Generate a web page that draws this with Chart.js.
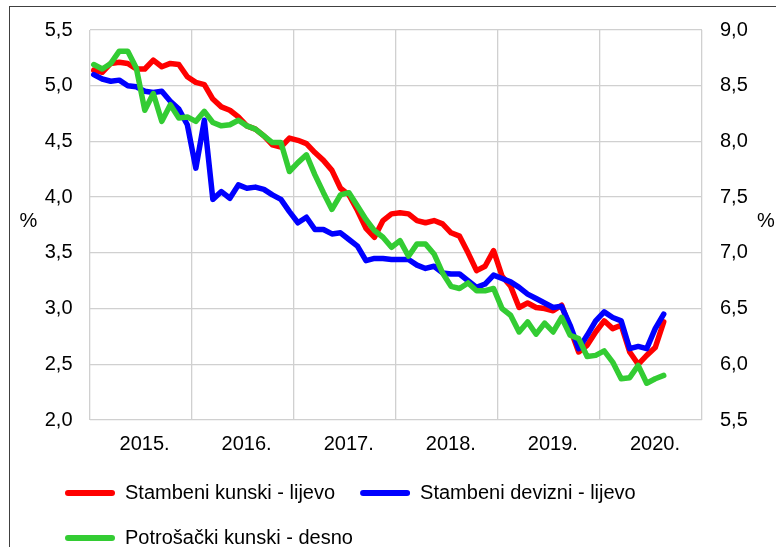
<!DOCTYPE html>
<html>
<head>
<meta charset="utf-8">
<script src="https://cdn.jsdelivr.net/npm/chart.js@4.4.1/dist/chart.umd.min.js"></script>
<style>
  body { margin: 0; background: #fff; overflow: hidden; }
  #wrap { position: relative; width: 776px; height: 547px; }
  #frame { position: absolute; left: 9px; top: 6px; width: 800px; height: 600px; border-left: 1px solid #404040; border-top: 1px solid #404040; pointer-events: none; }
</style>
</head>
<body>
<div id="wrap">
  <canvas id="ratesChart" width="776" height="547"></canvas>
  <div id="frame"></div>
</div>
<script>
// monthly, Jan 2015 - Aug 2020
var years = ["2015.", "2016.", "2017.", "2018.", "2019.", "2020."];
var stambeniKunski = [5.14, 5.12, 5.20, 5.21, 5.20, 5.15, 5.15, 5.23, 5.17, 5.20, 5.19, 5.08,
  5.03, 5.01, 4.88, 4.81, 4.78, 4.72, 4.64, 4.61, 4.55, 4.47, 4.45, 4.53,
  4.51, 4.48, 4.40, 4.33, 4.24, 4.08, 4.02, 3.88, 3.72, 3.64, 3.79, 3.85,
  3.86, 3.85, 3.79, 3.77, 3.79, 3.76, 3.68, 3.65, 3.50, 3.34, 3.38, 3.52,
  3.29, 3.20, 3.01, 3.05, 3.01, 3.00, 2.98, 3.03, 2.82, 2.61, 2.67, 2.79,
  2.89, 2.82, 2.85, 2.61, 2.50, 2.58, 2.65, 2.88];
var stambeniDevizni = [5.10, 5.06, 5.04, 5.05, 5.00, 4.99, 4.95, 4.94, 4.95, 4.86, 4.79, 4.65,
  4.26, 4.69, 3.98, 4.05, 3.99, 4.11, 4.08, 4.09, 4.07, 4.02, 3.98, 3.87,
  3.77, 3.82, 3.71, 3.71, 3.67, 3.68, 3.62, 3.56, 3.43, 3.45, 3.45, 3.44,
  3.44, 3.44, 3.39, 3.36, 3.38, 3.32, 3.31, 3.31, 3.25, 3.19, 3.22, 3.30,
  3.27, 3.24, 3.19, 3.13, 3.09, 3.05, 3.01, 3.02, 2.85, 2.64, 2.76, 2.89,
  2.97, 2.92, 2.89, 2.64, 2.66, 2.64, 2.82, 2.95];
var potrosackiKunski = [8.69, 8.65, 8.70, 8.81, 8.81, 8.66, 8.28, 8.43, 8.18, 8.33, 8.21, 8.22,
  8.18, 8.27, 8.17, 8.14, 8.15, 8.19, 8.14, 8.11, 8.05, 7.99, 7.99, 7.73,
  7.81, 7.88, 7.70, 7.54, 7.39, 7.52, 7.54, 7.42, 7.30, 7.20, 7.14, 7.05,
  7.11, 6.97, 7.08, 7.08, 6.99, 6.82, 6.70, 6.68, 6.73, 6.66, 6.66, 6.68,
  6.50, 6.44, 6.29, 6.38, 6.27, 6.37, 6.29, 6.42, 6.26, 6.23, 6.07, 6.08,
  6.12, 6.02, 5.87, 5.88, 5.99, 5.83, 5.87, 5.90];

var FONT = "'Liberation Sans', Arial, sans-serif";
var gridColor = "#d0d0d0";

// month i sits in the middle of its slot
function toPoints(arr) {
  return arr.map(function (v, i) { return { x: i + 0.5, y: v }; });
}
function comma(v) { return v.toFixed(1).replace(".", ","); }

function line(label, data, color, axis, order) {
  return {
    label: label,
    data: toPoints(data),
    borderColor: color,
    backgroundColor: color,
    borderWidth: 5.5,
    pointRadius: 0,
    tension: 0,
    borderJoinStyle: "round",
    borderCapStyle: "round",
    yAxisID: axis,
    order: order
  };
}

// "%" next to both axes, written flat like in the original
var percentLabels = {
  id: "percentLabels",
  afterDraw: function (chart) {
    var ctx = chart.ctx;
    ctx.save();
    ctx.font = "20px " + FONT;
    ctx.fillStyle = "#000";
    ctx.textAlign = "center";
    ctx.textBaseline = "middle";
    ctx.fillText("%", 28.5, 221);
    ctx.fillText("%", 766, 221);
    ctx.restore();
  }
};

new Chart("ratesChart", {
  type: "line",
  data: {
    datasets: [
      line("Stambeni kunski - lijevo", stambeniKunski, "#ff0000", "yL", 2),
      line("Stambeni devizni - lijevo", stambeniDevizni, "#0000ff", "yL", 1),
      line("Potrošački kunski - desno", potrosackiKunski, "#33cc33", "yR", 0)
    ]
  },
  plugins: [percentLabels],
  options: {
    responsive: false,
    animation: false,
    events: [],
    layout: { padding: { left: 40, top: 30, right: 0, bottom: 0 } },
    font: { family: FONT, size: 20 },
    color: "#000",
    scales: {
      x: {
        type: "linear",
        min: 0,
        max: 72,
        afterBuildTicks: function (scale) {
          var t = [];
          for (var v = 0; v <= 72; v += 6) t.push({ value: v });
          scale.ticks = t;
        },
        afterFit: function (scale) { scale.height = 38; },
        ticks: {
          autoSkip: false,
          maxRotation: 0,
          padding: 12,
          labelOffset: 4,
          color: "#000",
          font: { family: FONT, size: 20 },
          callback: function (v) { return v % 12 === 6 ? years[(v - 6) / 12] : ""; }
        },
        grid: {
          drawTicks: false,
          color: function (c) { return c.tick && c.tick.value % 12 === 0 ? gridColor : "rgba(0,0,0,0)"; },
          lineWidth: 1.3
        },
        border: { display: false }
      },
      yL: {
        position: "left",
        min: 2,
        max: 5.5,
        afterFit: function (scale) { scale.width = 49.5; },
        ticks: { stepSize: 0.5, padding: 17, color: "#000", font: { family: FONT, size: 20 }, callback: comma },
        grid: { drawTicks: false, color: gridColor, lineWidth: 1.3 },
        border: { display: false }
      },
      yR: {
        position: "right",
        min: 5.5,
        max: 9,
        afterFit: function (scale) { scale.width = 74; },
        ticks: { stepSize: 0.5, padding: 18, color: "#000", font: { family: FONT, size: 20 }, callback: comma },
        grid: { drawOnChartArea: false, drawTicks: false },
        border: { display: false }
      }
    },
    plugins: {
      tooltip: { enabled: false },
      legend: {
        position: "bottom",
        align: "start",
        maxHeight: 89,
        labels: {
          boxWidth: 50,
          boxHeight: 6,
          padding: 25,
          color: "#000",
          font: { family: FONT, size: 20 },
          useBorderRadius: true,
          borderRadius: 3,
          sort: function (a, b) { return a.datasetIndex - b.datasetIndex; },
          generateLabels: function (chart) {
            return Chart.defaults.plugins.legend.labels.generateLabels(chart).map(function (l) {
              l.fillStyle = l.strokeStyle;
              l.lineWidth = 0;
              return l;
            });
          }
        }
      }
    }
  }
});
</script>
</body>
</html>
